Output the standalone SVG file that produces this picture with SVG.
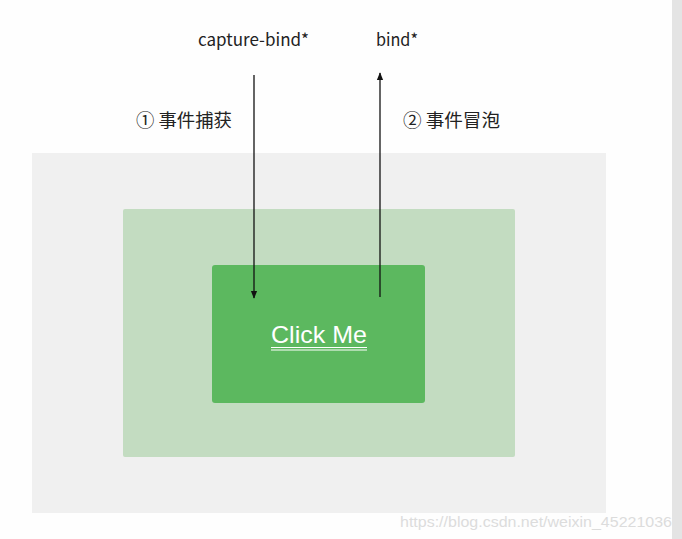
<svg xmlns="http://www.w3.org/2000/svg" width="682" height="539" viewBox="0 0 682 539">
<defs>
<style>
.lbl{font-family:"Noto Sans CJK SC","Liberation Sans",sans-serif;font-size:17px;fill:#222}
.cjk{font-size:18px}
.ln{stroke:#111;stroke-width:1.3;fill:none}
</style>
<marker id="ah" viewBox="0 0 10 10" refX="9" refY="5" markerWidth="6" markerHeight="6" orient="auto"><path d="M0,1 L10,5 L0,9 Z" fill="#111"/></marker>
</defs>
<rect width="682" height="539" fill="#fefefe"/>
<rect x="672" y="0" width="10" height="539" fill="#e4e4e4"/>
<g id="outer"><rect x="32" y="153" width="574" height="360" fill="#f0f0f0"/></g>
<g id="middle"><rect x="123" y="209" width="392" height="248" rx="2" fill="#c3dcc1"/></g>
<g id="inner"><rect x="212" y="265" width="213" height="138" rx="3" fill="#5cb85f"/>
<text x="271" y="343" textLength="96" lengthAdjust="spacingAndGlyphs" font-family="'Liberation Sans',Arial,sans-serif" font-size="24" fill="#fff">Click Me</text>
<line x1="271" y1="347.5" x2="367" y2="347.5" stroke="#fff" stroke-width="1"/>
<line x1="271" y1="350" x2="367" y2="350" stroke="#fff" stroke-width="1"/>
</g>
<g id="labels">
<text class="lbl" x="198" y="46" textLength="111" lengthAdjust="spacingAndGlyphs">capture-bind*</text>
<text class="lbl" x="376" y="46" textLength="42" lengthAdjust="spacingAndGlyphs">bind*</text>
<text class="lbl cjk" x="136" y="127" textLength="96" lengthAdjust="spacingAndGlyphs">① 事件捕获</text>
<text class="lbl cjk" x="403" y="127" textLength="97" lengthAdjust="spacingAndGlyphs">② 事件冒泡</text>
</g>
<g id="connectors">
<line class="ln" x1="254" y1="75" x2="254" y2="298" marker-end="url(#ah)"/>
<line class="ln" x1="380" y1="297" x2="380" y2="73" marker-end="url(#ah)"/>
</g>
<text x="400" y="527" textLength="272" lengthAdjust="spacingAndGlyphs" font-family="'Liberation Sans',Arial,sans-serif" font-size="15" fill="#dcdcdc">https://blog.csdn.net/weixin_45221036</text>
</svg>
